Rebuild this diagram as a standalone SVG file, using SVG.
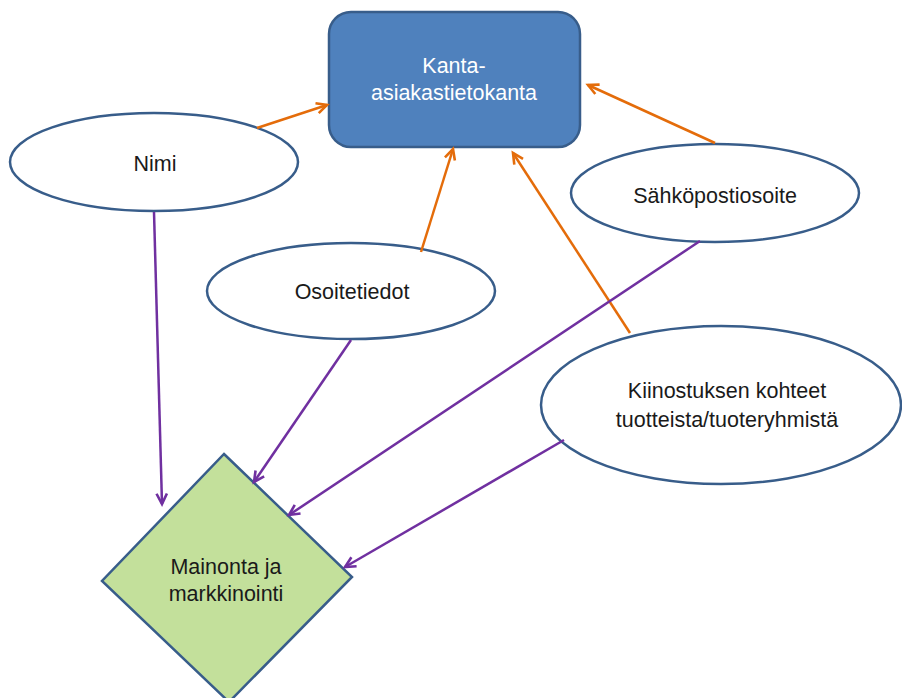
<svg xmlns="http://www.w3.org/2000/svg" width="902" height="698" viewBox="0 0 902 698">
<style>
.ell{fill:#ffffff;stroke:#385D8A;stroke-width:2.5}
.lbl{font-family:"Liberation Sans",Arial,sans-serif;font-size:21.5px;fill:#1a1a1a;text-anchor:middle}
.or{stroke:#E46C0A;stroke-width:2.5;fill:none}
.pu{stroke:#7030A0;stroke-width:2.5;fill:none}
</style>
<defs>
<marker id="ao" viewBox="0 0 10 10" refX="9" refY="5" markerWidth="13" markerHeight="13" markerUnits="userSpaceOnUse" orient="auto" overflow="visible">
<path d="M1,1 L9,5 L1,9" fill="none" stroke="#E46C0A" stroke-width="2"/>
</marker>
<marker id="ap" viewBox="0 0 10 10" refX="9" refY="5" markerWidth="13" markerHeight="13" markerUnits="userSpaceOnUse" orient="auto" overflow="visible">
<path d="M1,1 L9,5 L1,9" fill="none" stroke="#7030A0" stroke-width="2"/>
</marker>
</defs>
<rect width="902" height="698" fill="#ffffff"/>
<g id="kanta">
<rect x="329" y="12" width="251" height="135" rx="22" fill="#4F81BD" stroke="#385D8A" stroke-width="2.5"/>
<text class="lbl" x="454" y="73" style="fill:#ffffff">Kanta-</text>
<text class="lbl" x="454" y="100" style="fill:#ffffff">asiakastietokanta</text>
</g>
<g id="nimi">
<ellipse class="ell" cx="154" cy="162" rx="144" ry="49"/>
<text class="lbl" x="155" y="171">Nimi</text>
</g>
<g id="osoitetiedot">
<ellipse class="ell" cx="351" cy="291" rx="144" ry="48"/>
<text class="lbl" x="352" y="299">Osoitetiedot</text>
</g>
<g id="sahkoposti">
<ellipse class="ell" cx="715" cy="193" rx="144" ry="49"/>
<text class="lbl" x="715" y="203">Sähköpostiosoite</text>
</g>
<g id="kiinostus">
<ellipse class="ell" cx="721" cy="405" rx="180" ry="79"/>
<text class="lbl" x="727" y="398">Kiinostuksen kohteet</text>
<text class="lbl" x="727" y="427">tuotteista/tuoteryhmistä</text>
</g>
<g id="mainonta">
<path d="M224,454 L352,577 L229,702 L102,581 Z" fill="#C3E09B" stroke="#385D8A" stroke-width="2.5"/>
<text class="lbl" x="226" y="574">Mainonta ja</text>
<text class="lbl" x="226" y="601">markkinointi</text>
</g>
<g id="connectors">
<line class="or" x1="257" y1="128" x2="327" y2="105" marker-end="url(#ao)"/>
<line class="or" x1="421" y1="252" x2="453" y2="149" marker-end="url(#ao)"/>
<line class="or" x1="630" y1="333" x2="513" y2="153" marker-end="url(#ao)"/>
<line class="or" x1="715" y1="143" x2="588" y2="85" marker-end="url(#ao)"/>
<line class="pu" x1="154" y1="212" x2="162" y2="504" marker-end="url(#ap)"/>
<line class="pu" x1="351" y1="340" x2="254" y2="482" marker-end="url(#ap)"/>
<line class="pu" x1="700" y1="241" x2="289" y2="515" marker-end="url(#ap)"/>
<line class="pu" x1="564" y1="440" x2="345" y2="567" marker-end="url(#ap)"/>
</g>
</svg>
